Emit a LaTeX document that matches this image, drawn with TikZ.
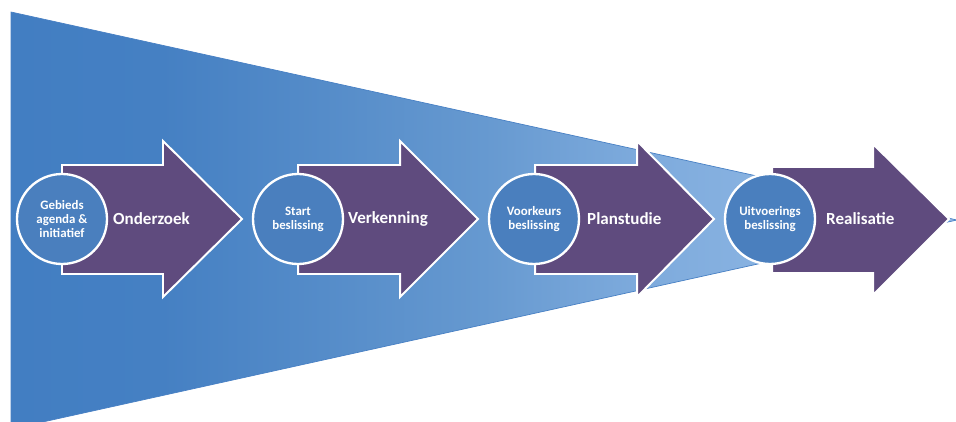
\documentclass[tikz,border=0pt]{standalone}
\usepackage{fontspec}
\setmainfont{Carlito}
\definecolor{stagepurple}{RGB}{95,75,126}
\definecolor{gateblue}{RGB}{74,127,190}
\definecolor{funneledge}{RGB}{72,128,196}
\pgfdeclarehorizontalshading{funnel}{100bp}{rgb(0bp)=(0.259,0.494,0.761); rgb(25bp)=(0.259,0.494,0.761); rgb(33bp)=(0.271,0.502,0.765); rgb(41.5bp)=(0.333,0.549,0.788); rgb(50bp)=(0.400,0.600,0.816); rgb(58bp)=(0.490,0.667,0.863); rgb(64.5bp)=(0.533,0.698,0.882); rgb(75bp)=(0.569,0.725,0.902); rgb(100bp)=(0.569,0.725,0.902)}
\begin{document}
\begin{tikzpicture}[x=0.03cm, y=0.03cm]
        \tikzstyle{every node}+=[inner sep=0pt]
        \tikzstyle{stage}=[fill=stagepurple, draw=white, line width=1.7pt, line join=miter]
        \tikzstyle{gate}=[circle, minimum size=2.7cm, fill=gateblue, draw=white, line width=2pt, text=white, align=center, font=\fontsize{11}{11.8}\selectfont\bfseries]
        \tikzstyle{phase}=[anchor=west, text=white, font=\fontsize{14.5}{17}\selectfont\bfseries]
        \useasboundingbox (0,0) rectangle (956,-421);
        \clip (0,0) rectangle (956,-421);
        % funnel
        \draw [shading=funnel, draw=funneledge, line width=0.6pt] (11,-12) -- (957,-220) -- (11,-429) -- cycle;
        % stage 1
        \draw [stage] (62,-165) -- (163,-165) -- (163,-141) -- (242,-219) -- (163,-297) -- (163,-274) -- (62,-274) -- cycle;
        \node [gate] (gebieds) at (62,-219) {Gebieds\\agenda \&\\initiatief};
        \node [phase] (onderzoek) at (113,-219) {Onderzoek};
        % stage 2
        \draw [stage] (298,-165) -- (400,-165) -- (400,-141) -- (478,-219) -- (400,-297) -- (400,-274) -- (298,-274) -- cycle;
        \node [gate] (start) at (298,-219) {Start\\beslissing};
        \node [phase] (verkenning) at (348,-219) {Verkenning};
        % stage 3
        \draw [stage] (535,-165) -- (637,-165) -- (637,-141) -- (714,-219) -- (637,-297) -- (637,-274) -- (535,-274) -- cycle;
        \node [gate] (voorkeurs) at (534,-219) {Voorkeurs\\beslissing};
        \node [phase] (planstudie) at (587,-219) {Planstudie};
        % stage 4
        \draw [stage] (772,-167) -- (873,-167) -- (873,-144) -- (949,-219) -- (873,-295) -- (873,-273) -- (772,-273) -- cycle;
        \node [gate] (uitvoerings) at (770,-219) {Uitvoerings\\beslissing};
        \node [phase] (realisatie) at (826,-219) {Realisatie};
    \end{tikzpicture}
\end{document}
